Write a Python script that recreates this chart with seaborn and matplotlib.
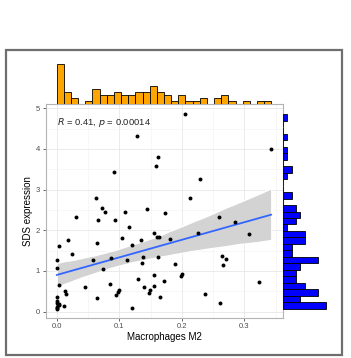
import numpy as np
import pandas as pd
import matplotlib
matplotlib.use("Agg")
import matplotlib.pyplot as plt
import seaborn as sns
from matplotlib.patches import Rectangle

# data
m2 = [0.2057, 0.129, 0.343, 0.1625, 0.159, 0.091, 0.229, 0.2126, 0.0634, 0.072,
      0.0767, 0.145, 0.110, 0.1726, 0.031, 0.066, 0.094, 0.2595, 0.115, 0.2845,
      0.226, 0.1556, 0.307, 0.105, 0.018, 0.135, 0.160, 0.164, 0.1806, 0.064,
      0.003, 0.121, 0.0245, 0.0, 0.0586, 0.087, 0.113, 0.138, 0.1625, 0.137,
      0.265, 0.270, 0.266, 0.1886, 0.0746, 0.0, 0.1556, 0.200, 0.1987, 0.130,
      0.324, 0.1716, 0.004, 0.086, 0.0458, 0.140, 0.155, 0.149, 0.1476, 0.099,
      0.0975, 0.095, 0.013, 0.015, 0.2376, 0.064, 0.1657, 0.2616, 0.012, 0.121,
      0.0, 0.0, 0.003, 0.004, 0.0, 0.0, 0.001, 0.0, 0.002]
sds = [4.85, 4.32, 4.00, 3.79, 3.57, 3.43, 3.27, 2.80, 2.79, 2.55,
       2.46, 2.51, 2.45, 2.43, 2.32, 2.26, 2.26, 2.33, 2.08, 2.19,
       1.93, 1.93, 1.90, 1.80, 1.77, 1.77, 1.84, 1.83, 1.79, 1.69,
       1.62, 1.63, 1.42, 1.28, 1.27, 1.31, 1.28, 1.33, 1.34, 1.20,
       1.37, 1.29, 1.15, 1.16, 1.04, 1.06, 0.90, 0.93, 0.88, 0.79,
       0.73, 0.74, 0.66, 0.69, 0.61, 0.60, 0.64, 0.54, 0.45, 0.53,
       0.48, 0.41, 0.50, 0.43, 0.43, 0.34, 0.35, 0.21, 0.14, 0.09,
       0.35, 0.25, 0.19, 0.15, 0.12, 0.07, 0.22, 0.10, 0.17]
df = pd.DataFrame({"m2": m2, "sds": sds})

sns.set_style("white")
plt.rcParams["font.family"] = ["Liberation Sans", "DejaVu Sans"]

fig = plt.figure(figsize=(3.51, 3.58), dpi=100)
fig.patches.append(Rectangle((6 / 351, 1 - 355 / 358), 336 / 351, 305 / 358,
                             transform=fig.transFigure, fill=False,
                             edgecolor="#6e6e6e", linewidth=1.6))

ax = fig.add_axes([0.130, 0.112, 0.675, 0.598])
ax_top = fig.add_axes([0.130, 0.710, 0.675, 0.115], sharex=ax)
ax_right = fig.add_axes([0.806, 0.112, 0.134, 0.598], sharey=ax)

# confidence band (grey) + regression line (blue)
sns.regplot(data=df, x="m2", y="sds", ax=ax, scatter=False, color="grey",
            line_kws={"alpha": 0})
band = ax.collections[-1]
band.set_facecolor("#d3d3d3")
band.set_alpha(1)
band.set_zorder(1)
sns.regplot(data=df, x="m2", y="sds", ax=ax, scatter=False, ci=None,
            line_kws={"color": "#3366FF", "linewidth": 1.3, "zorder": 2})
sns.scatterplot(data=df, x="m2", y="sds", ax=ax, color="black", s=8,
                linewidth=0, zorder=3)

ax.set_xlim(-0.0176, 0.361)
ax.set_ylim(-0.155, 5.107)
ax.set_xticks([0.0, 0.1, 0.2, 0.3])
ax.set_xticklabels(["0.0", "0.1", "0.2", "0.3"])
ax.set_yticks([0, 1, 2, 3, 4, 5])
ax.set_xticks(np.arange(0.05, 0.36, 0.1), minor=True)
ax.set_yticks(np.arange(0.5, 5.1, 1), minor=True)
ax.grid(True, which="major", color="#e8e8e8", linewidth=0.6)
ax.grid(True, which="minor", color="#f2f2f2", linewidth=0.4)
ax.set_axisbelow(True)
for s in ax.spines.values():
    s.set_color("#b3b3b3")
    s.set_linewidth(0.8)
ax.tick_params(which="major", length=2.5, width=0.6, color="#4d4d4d",
               labelsize=5.5, labelcolor="#4d4d4d", pad=1.5,
               bottom=True, left=True)
ax.tick_params(which="minor", length=0)
ax.set_xlabel("Macrophages M2", fontsize=7, color="black", labelpad=1)
ax.set_ylabel("SDS expression", fontsize=7, color="black", labelpad=2)
ax.text(0.0, 4.66, r"$\it{R}$ = 0.41, $\it{p}$ = 0.00014", fontsize=6.8,
        ha="left", va="center")

# marginal histograms
sns.histplot(data=df, x="m2", bins=30, ax=ax_top, color="orange", alpha=1,
             edgecolor="black", linewidth=0.6)
sns.histplot(data=df, y="sds", bins=30, ax=ax_right, color="blue", alpha=1,
             edgecolor="black", linewidth=0.6)
for a in (ax_top, ax_right):
    a.axis("off")
top_max = max(p.get_height() for p in ax_top.patches)
right_max = max(p.get_width() for p in ax_right.patches)
ax_top.set_ylim(0, top_max * 1.04)
ax_right.set_xlim(0, right_max * 1.08)

fig.savefig("out.png", dpi=100)
